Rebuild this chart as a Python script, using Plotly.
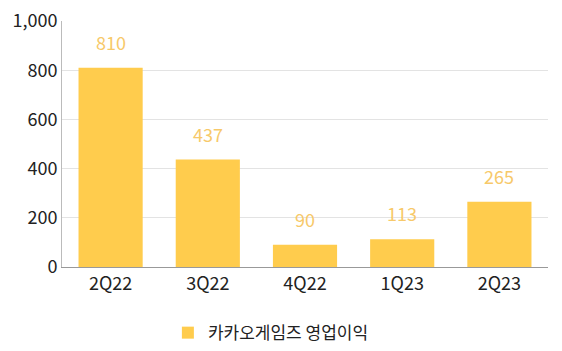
import plotly.graph_objects as go

categories = ["2Q22", "3Q22", "4Q22", "1Q23", "2Q23"]
values = [810, 437, 90, 113, 265]
series_name = "카카오게임즈 영업이익"
tick_vals = [0, 200, 400, 600, 800, 1000]
tick_text = ["0", "200", "400", "600", "800", "1,000"]

FONT = "Noto Sans CJK KR"
BAR = "#FFCC4D"
LABEL = "#F7C96A"

fig = go.Figure()
fig.add_trace(go.Bar(
    x=categories, y=values, name=series_name,
    marker=dict(color=BAR, line=dict(width=0)),
    showlegend=False,
))
# legend entry with larger square marker
fig.add_trace(go.Scatter(
    x=[categories[0]], y=[None], mode="markers", name=series_name,
    marker=dict(symbol="square", size=18, color=BAR),
    showlegend=True, hoverinfo="skip",
))
for c, v in zip(categories, values):
    fig.add_annotation(x=c, y=v, text=str(v), showarrow=False,
                       yanchor="bottom", yshift=11,
                       font=dict(family=FONT, size=18, color=LABEL))

fig.update_layout(
    width=562, height=351,
    margin=dict(l=62, r=14, t=21, b=84, autoexpand=False),
    paper_bgcolor="white", plot_bgcolor="white",
    bargap=0.34,
    font=dict(family=FONT, size=17, color="#222222"),
    showlegend=True,
    legend=dict(orientation="h", xref="container", x=0.482, xanchor="center",
                yref="container", y=0.051, yanchor="middle",
                font=dict(family=FONT, size=17, color="#222222"),
                itemsizing="constant"),
    xaxis=dict(showline=True, linecolor="#999999", linewidth=1, ticks="",
               tickfont=dict(family=FONT, size=18, color="#222222")),
    yaxis=dict(range=[0, 1000], tickvals=tick_vals, ticktext=tick_text,
               showgrid=True, gridcolor="#E3E3E3", gridwidth=1,
               showline=True, linecolor="#BBBBBB", linewidth=1,
               zeroline=False, ticks="", ticklen=0,
               tickfont=dict(family=FONT, size=18, color="#222222")),
)
fig.write_html("out.html")
